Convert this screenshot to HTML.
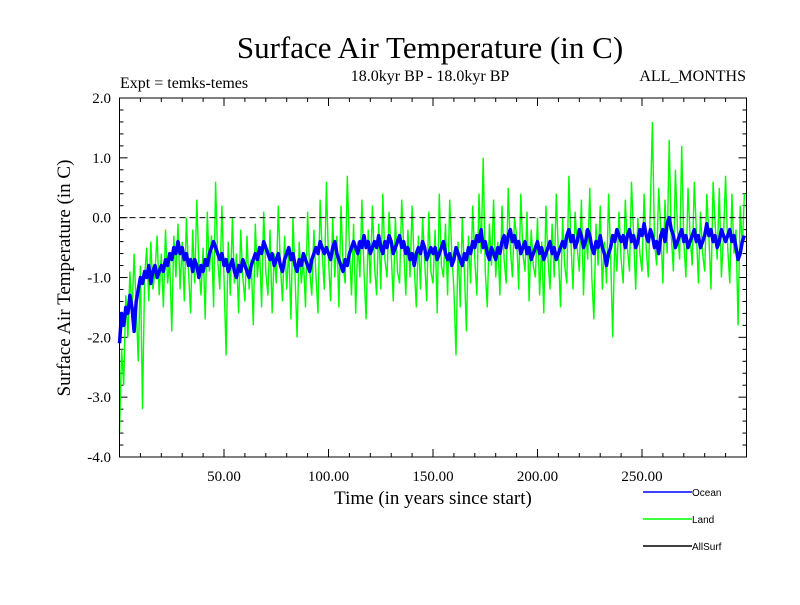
<!DOCTYPE html>
<html><head><meta charset="utf-8"><style>
body{margin:0;background:#fff;}
svg text{font-family:"Liberation Serif",serif;fill:#000;}
</style></head><body>
<svg id="chart" width="800" height="600" viewBox="0 0 800 600">
<text x="430" y="58" font-size="31" text-anchor="middle">Surface Air Temperature (in C)</text>
<text x="120" y="88" font-size="16">Expt = temks-temes</text>
<text x="430" y="81" font-size="16" text-anchor="middle">18.0kyr BP - 18.0kyr BP</text>
<text x="746" y="81" font-size="16" text-anchor="end">ALL_MONTHS</text>
<text transform="translate(70,278) rotate(-90)" font-size="19" text-anchor="middle">Surface Air Temperature (in C)</text>
<text x="433" y="504" font-size="19" text-anchor="middle">Time (in years since start)</text>
<g id="ticks"></g>
<g id="series"></g>
<rect x="119.5" y="98" width="627" height="359" fill="none" stroke="#000" stroke-width="1"/>
<g>
<line x1="643" y1="492" x2="692" y2="492" stroke="#0000ff" stroke-width="1.5"/>
<text x="692" y="496" font-size="10" style="font-family:'Liberation Sans',sans-serif">Ocean</text>
<line x1="643" y1="519" x2="692" y2="519" stroke="#00ff00" stroke-width="1.5"/>
<text x="692" y="523" font-size="10" style="font-family:'Liberation Sans',sans-serif">Land</text>
<line x1="643" y1="546" x2="692" y2="546" stroke="#000" stroke-width="1.5"/>
<text x="692" y="550" font-size="10" style="font-family:'Liberation Sans',sans-serif">AllSurf</text>
</g>
</svg>
<script>
const yTickLabels=["2.0","1.0","0.0","-1.0","-2.0","-3.0","-4.0"];
const xTickLabels=["50.00","100.00","150.00","200.00","250.00"];
const oceanValues=[-2.1,-1.6,-1.8,-1.5,-1.6,-1.3,-1.5,-1.9,-1.4,-1.2,
-1.0,-1.1,-0.9,-1.0,-0.8,-1.1,-0.9,-0.8,-1.0,-0.9,
-0.8,-0.9,-0.7,-0.8,-0.6,-0.7,-0.5,-0.6,-0.4,-0.6,
-0.5,-0.7,-0.6,-0.8,-0.7,-0.9,-0.7,-0.8,-1.0,-0.8,
-0.9,-0.7,-0.8,-0.6,-0.5,-0.4,-0.5,-0.6,-0.7,-0.6,
-0.8,-0.7,-0.9,-0.8,-0.7,-0.9,-1.0,-0.8,-0.9,-0.7,
-0.8,-0.9,-1.0,-0.8,-0.7,-0.6,-0.7,-0.5,-0.6,-0.4,
-0.5,-0.6,-0.7,-0.6,-0.8,-0.7,-0.6,-0.8,-0.9,-0.7,
-0.6,-0.5,-0.7,-0.6,-0.8,-0.9,-0.7,-0.8,-0.6,-0.7,
-0.8,-0.9,-0.7,-0.6,-0.5,-0.6,-0.4,-0.5,-0.6,-0.5,
-0.6,-0.7,-0.5,-0.4,-0.6,-0.7,-0.8,-0.9,-0.7,-0.8,
-0.6,-0.5,-0.4,-0.5,-0.6,-0.4,-0.5,-0.3,-0.5,-0.4,
-0.6,-0.5,-0.4,-0.5,-0.3,-0.5,-0.6,-0.4,-0.5,-0.3,
-0.4,-0.6,-0.5,-0.4,-0.3,-0.5,-0.4,-0.6,-0.5,-0.7,
-0.6,-0.8,-0.6,-0.5,-0.6,-0.4,-0.5,-0.7,-0.6,-0.5,
-0.6,-0.5,-0.7,-0.6,-0.5,-0.4,-0.6,-0.7,-0.6,-0.8,
-0.7,-0.5,-0.6,-0.7,-0.8,-0.6,-0.7,-0.5,-0.6,-0.4,
-0.5,-0.3,-0.4,-0.2,-0.5,-0.4,-0.6,-0.7,-0.5,-0.6,
-0.7,-0.5,-0.6,-0.4,-0.3,-0.5,-0.3,-0.2,-0.4,-0.3,
-0.5,-0.4,-0.6,-0.5,-0.4,-0.6,-0.5,-0.7,-0.6,-0.5,
-0.4,-0.6,-0.5,-0.7,-0.6,-0.5,-0.4,-0.6,-0.5,-0.7,
-0.6,-0.5,-0.4,-0.5,-0.3,-0.2,-0.4,-0.3,-0.5,-0.4,
-0.2,-0.3,-0.5,-0.4,-0.2,-0.3,-0.5,-0.6,-0.4,-0.5,
-0.3,-0.5,-0.6,-0.8,-0.6,-0.5,-0.3,-0.4,-0.2,-0.3,
-0.4,-0.3,-0.5,-0.3,-0.2,-0.4,-0.3,-0.5,-0.4,-0.2,
-0.3,-0.1,-0.3,-0.4,-0.2,-0.3,-0.5,-0.4,-0.6,-0.3,
-0.2,-0.4,-0.1,0.0,-0.2,-0.3,-0.5,-0.4,-0.3,-0.2,
-0.4,-0.3,-0.5,-0.4,-0.3,-0.2,-0.4,-0.3,-0.5,-0.4,
-0.3,-0.1,-0.3,-0.2,-0.4,-0.3,-0.5,-0.4,-0.2,-0.3,
-0.4,-0.3,-0.2,-0.4,-0.3,-0.5,-0.7,-0.6,-0.4,-0.3];
const landValues=[-3.6,-2.2,-2.8,-1.3,-2.0,-0.9,-1.6,-0.6,-1.5,-2.4,
-0.8,-3.2,-1.0,-0.5,-1.4,-0.4,-1.2,-0.9,-0.3,-1.3,
-0.6,-1.5,-0.2,-1.1,-0.7,-1.9,-0.3,-1.0,-0.1,-1.2,
-0.4,-1.4,0.0,-0.9,-1.6,-0.2,-1.1,0.3,-0.8,-1.3,
-0.5,-1.7,0.1,-0.9,-0.3,-1.5,0.6,-0.7,-1.2,0.2,
-1.0,-2.3,-0.4,-1.3,0.0,-1.1,-0.6,-1.6,-0.2,-1.0,
-1.4,-0.3,-1.2,-0.7,-1.8,-0.1,-1.0,-0.5,-1.5,0.1,
-0.9,-1.3,-0.2,-1.6,-0.6,-1.1,0.2,-0.8,-1.4,-0.3,
-1.2,-0.5,-1.7,0.0,-1.0,-2.0,-0.4,-1.1,-0.7,-1.5,
0.1,-0.9,-1.3,-0.2,-1.0,-1.6,0.3,-0.6,-1.2,0.6,
-0.7,-1.4,0.0,-1.0,-0.3,-1.5,0.2,-0.8,-1.1,0.7,
-0.5,-1.3,-0.1,-1.6,-0.4,-1.0,0.3,-0.9,-1.7,-0.2,
-1.1,0.2,-0.8,-1.3,-0.1,-1.2,0.4,-0.7,-1.0,0.1,
-0.6,-1.4,0.0,-0.9,-1.1,0.3,-0.5,-1.3,-0.2,-1.0,
0.2,-0.8,-1.5,-0.3,-1.2,0.0,-0.7,-1.4,0.1,-0.9,
-1.1,-0.2,-1.6,0.4,-0.8,-1.0,-0.1,-1.3,0.3,-0.6,
-1.2,-2.3,-0.4,-1.5,0.0,-0.9,-1.9,-0.3,-1.1,0.2,
-0.7,-1.3,0.4,-0.6,1.0,-0.9,-1.5,-0.1,-0.8,0.3,
-1.0,-0.4,-1.3,0.2,-0.7,-1.1,0.5,-0.5,-1.0,0.0,
-0.3,-1.2,0.4,-0.6,-0.9,0.1,-1.4,-0.2,-0.8,-1.0,
0.0,-1.3,-0.4,-1.6,0.2,-0.7,-1.2,-0.1,-1.0,0.4,
-0.6,-1.5,0.0,-0.8,-1.1,0.7,-0.4,-1.2,0.1,-0.5,
-0.9,0.3,-1.3,-0.2,-0.7,0.5,-1.0,-1.7,-0.1,-0.8,
0.2,-1.2,-0.4,-1.1,0.4,-0.6,-2.0,-0.3,-0.9,0.1,
-0.7,-1.1,0.3,-0.5,-0.9,0.6,-0.3,-1.2,0.0,-0.6,
-0.9,0.4,-0.5,-1.0,0.2,1.6,-0.4,-0.8,0.5,-0.2,
-1.1,0.3,-0.6,1.3,-0.3,-0.9,0.8,-0.2,-0.7,1.2,
-0.4,-1.0,0.5,-0.3,-0.8,0.6,-0.2,-1.1,0.1,-0.6,
-0.9,0.4,-0.3,-1.2,0.6,-0.1,-0.7,0.5,-1.0,-0.3,
0.7,-0.5,-1.1,0.4,-0.6,-0.2,-1.8,0.2,-0.5,0.4];
const yearStep=1;
const X0=119.5,X1=746.5,Y0=98,Y1=457,XMAX=300,YMIN=-4,YMAX=2;
const NS="http://www.w3.org/2000/svg";
function xs(v){return X0+(v/XMAX)*(X1-X0);}
function ys(v){return Y0+(YMAX-v)/(YMAX-YMIN)*(Y1-Y0);}
function mk(tag,attrs,parent){const e=document.createElementNS(NS,tag);for(const k in attrs)e.setAttribute(k,attrs[k]);parent.appendChild(e);return e;}
const ticks=document.getElementById('ticks');
for(let i=0;i<=30;i++){const v=i*10,x=xs(v),L=(i%5===0)?8:4;
 let t=mk('line',{x1:x,y1:Y1,x2:x,y2:Y1-L,stroke:'#000'},ticks);
 
 
 t=mk('line',{x1:x,y1:Y0,x2:x,y2:Y0+L,stroke:'#000'},ticks);
 
 }
for(let i=0;i<=30;i++){const v=YMIN+i*0.2,y=ys(v),L=(i%5===0)?8:4;
 let t=mk('line',{x1:X0,y1:y,x2:X0+L,y2:y,stroke:'#000'},ticks);
 
 
 t=mk('line',{x1:X1,y1:y,x2:X1-L,y2:y,stroke:'#000'},ticks);
 
 }
yTickLabels.forEach(s=>{const t=mk('text',{x:111,y:ys(parseFloat(s))+5,'font-size':15,'text-anchor':'end'},ticks);t.textContent=s;
 
 });
xTickLabels.forEach(s=>{const t=mk('text',{x:xs(parseFloat(s)),y:481,'font-size':15,'text-anchor':'middle'},ticks);t.textContent=s;
 
 });
const ser=document.getElementById('series');
function pts(arr){return arr.map((v,i)=>xs(i*yearStep).toFixed(1)+','+ys(v).toFixed(1)).join(' ');}
let land=mk('polyline',{points:pts(landValues),fill:'none',stroke:'#00ff00','stroke-width':1.4},ser);


let zero=mk('line',{x1:X0,y1:ys(0),x2:X1,y2:ys(0),stroke:'#000','stroke-dasharray':'6,4','stroke-width':1},ser);


let ocean=mk('polyline',{points:pts(oceanValues),fill:'none',stroke:'#0000ff','stroke-width':3.5,'stroke-linejoin':'round'},ser);


</script>
</body></html>
